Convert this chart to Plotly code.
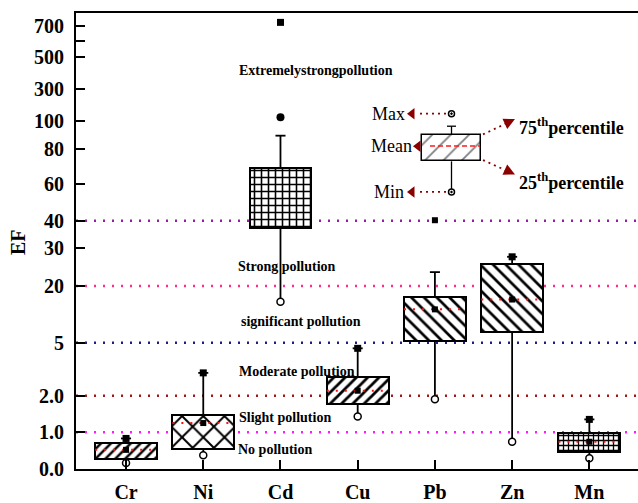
import numpy as np
import plotly.graph_objects as go

# ---------------- data ----------------
categories = ["Cr", "Ni", "Cd", "Cu", "Pb", "Zn", "Mn"]
q1 = [0.27, 0.555, 37.4, 1.78, 5.34, 7.95, 0.475]
q3 = [0.70, 1.48, 69.2, 3.06, 17.0, 25.7, 0.965]
mean = [0.52, 1.25, None, 2.28, 13.8, 16.4, 0.74]
whisker_max = [0.83, 3.29, 89.3, 4.68, 23.6, 27.6, 1.35]
min_val = [0.16, 0.375, 15.8, 1.43, 1.90, 0.74, 0.295]
has_max_marker = [True, True, False, True, False, True, True]
outlier_cat = ["Cd", "Cd", "Pb"]
outlier_val = [720, 122, 40.3]
outlier_symbol = ["square", "circle", "square"]
outlier_size = [7, 8, 6]
patterns = ["/", "x", "+", "/", "\\", "\\", "+"]
pattern_size = [7, 15, 7, 8, 9, 9, 5]
pattern_solidity = [0.35, 0.25, 0.4, 0.35, 0.3, 0.3, 0.45]

# custom broken EF scale: tick value -> axis position
tick_vals = [0, 1, 2, 5, 20, 30, 40, 60, 80, 100, 300, 500, 700]
tick_text = ["0.0", "1.0", "2.0", "5", "20", "30", "40", "60", "80", "100", "300", "500", "700"]
tick_pos = [0, 37.3, 74.3, 128, 185.5, 224.3, 251.5, 288.3, 324.7, 352.7, 385, 417.3, 449.3]
minor_tick_vals = [600]

thresholds = [40, 20, 5, 2, 1]
threshold_colors = ["#9a1aa8", "#ff2d8a", "#1c1c8c", "#a01818", "#ff1aff"]
class_labels = ["Extremelystrongpollution", "Strong pollution", "significant pollution",
                "Moderate pollution", "Slight pollution", "No pollution"]
class_label_pos = [71, 270, 326, 376, 423.3, 455]  # pixel rows
class_label_x = [236.7, 235.7, 239.3, 236.7, 236.7, 235.7]


def to_axis(v):
    if v is None:
        return None
    if v > tick_vals[-1]:
        slope = (tick_pos[-1] - tick_pos[-2]) / (tick_vals[-1] - tick_vals[-2])
        return tick_pos[-1] + (v - tick_vals[-1]) * slope
    return float(np.interp(v, tick_vals, tick_pos))


W, H = 638, 503
L, R, T, B = 76, 0, 13, 28
FONT = "Liberation Serif"
idx = list(range(len(categories)))
half = 0.4

fig = go.Figure()

# threshold dotted lines
for v, c in zip(thresholds, threshold_colors):
    fig.add_shape(type="line", xref="paper", x0=0, x1=1, yref="y", y0=to_axis(v), y1=to_axis(v),
                  line=dict(color=c, width=2.5, dash="2px,7px"), layer="below")

# whiskers
wx, wy = [], []
for i in idx:
    wx += [i, i, None, i, i, None]
    wy += [to_axis(q3[i]), to_axis(whisker_max[i]), None, to_axis(q1[i]), to_axis(min_val[i]), None]
    wx += [i - 0.065, i + 0.065, None]
    wy += [to_axis(whisker_max[i]), to_axis(whisker_max[i]), None]
fig.add_trace(go.Scatter(x=wx, y=wy, mode="lines", line=dict(color="black", width=1.8),
                         hoverinfo="skip", showlegend=False, opacity=1))

# boxes
fig.add_trace(go.Bar(
    x=idx, base=[to_axis(a) for a in q1],
    y=[to_axis(b) - to_axis(a) for a, b in zip(q1, q3)],
    width=2 * half, opacity=1,
    marker=dict(color="white", opacity=1, line=dict(color="black", width=2),
                pattern=dict(shape=patterns, fgcolor="black", bgcolor="white", fgopacity=1,
                             size=pattern_size, solidity=pattern_solidity)),
    showlegend=False, hoverinfo="skip"))

# mean dotted red lines
mx, my = [], []
for i in idx:
    if mean[i] is not None:
        mx += [i - half, i + half, None]
        my += [to_axis(mean[i]), to_axis(mean[i]), None]
fig.add_trace(go.Scatter(x=mx, y=my, mode="lines", line=dict(color="#ff1010", width=2, dash="2px,7px"),
                         hoverinfo="skip", showlegend=False))

# mean markers
fig.add_trace(go.Scatter(x=[i for i in idx if mean[i] is not None],
                         y=[to_axis(mean[i]) for i in idx if mean[i] is not None],
                         mode="markers", marker=dict(symbol="square", size=6, color="black"),
                         showlegend=False, hoverinfo="skip"))
# max markers
fig.add_trace(go.Scatter(x=[i for i in idx if has_max_marker[i]],
                         y=[to_axis(whisker_max[i]) for i in idx if has_max_marker[i]],
                         mode="markers", marker=dict(symbol="square", size=7, color="black"),
                         showlegend=False, hoverinfo="skip"))
# min markers
fig.add_trace(go.Scatter(x=idx, y=[to_axis(v) for v in min_val], mode="markers",
                         marker=dict(symbol="circle", size=7, color="white",
                                     line=dict(color="black", width=1.5)),
                         showlegend=False, hoverinfo="skip"))
# outliers
fig.add_trace(go.Scatter(x=[categories.index(c) for c in outlier_cat],
                         y=[to_axis(v) for v in outlier_val], mode="markers",
                         marker=dict(symbol=outlier_symbol, size=outlier_size, color="black",
                                     opacity=1, line=dict(color="black", width=0)),
                         showlegend=False, hoverinfo="skip", opacity=1))

# pollution class labels (pixel overlay axes)
for txt, py, px in zip(class_labels, class_label_pos, class_label_x):
    fig.add_annotation(xref="x2", yref="y2", x=px, y=py, text=txt, showarrow=False,
                       xanchor="left", yanchor="middle",
                       font=dict(family=FONT, size=14, color="black", weight="bold"))

# ---------------- schematic key (pixel overlay axes) ----------------
AR = "#8b0000"
fig.add_trace(go.Bar(x=[451.5], base=[136.7], y=[26.6], width=58.4, xaxis="x2", yaxis="y2",
                     opacity=1,
                     marker=dict(color="white", line=dict(color="black", width=1.5),
                                 pattern=dict(shape="/", fgcolor="black", bgcolor="white",
                                              size=13, solidity=0.14)),
                     showlegend=False, hoverinfo="skip"))
fig.add_trace(go.Scatter(x=[430, 480], y=[147.7, 147.7], xaxis="x2", yaxis="y2", mode="lines",
                         line=dict(color="#ff1a1a", width=1.5, dash="5px,3px"),
                         showlegend=False, hoverinfo="skip"))
fig.add_trace(go.Scatter(x=[451.5, 451.5, None, 447, 456, None, 451.5, 451.5],
                         y=[136.7, 127.7, None, 127.7, 127.7, None, 163.3, 194.3],
                         xaxis="x2", yaxis="y2", mode="lines", line=dict(color="black", width=1.3),
                         showlegend=False, hoverinfo="skip"))
fig.add_trace(go.Scatter(x=[451.5, 451.5], y=[115, 194.3], xaxis="x2", yaxis="y2", mode="markers",
                         marker=dict(symbol="circle-dot", size=6, color="white",
                                     line=dict(color="black", width=1.5)),
                         showlegend=False, hoverinfo="skip"))
# dotted arrow shafts
fig.add_trace(go.Scatter(x=[446, 416, None, 446, 416, None, 483, 506, None, 483, 506],
                         y=[115, 115, None, 194.3, 194.3, None, 136, 125, None, 162, 172.5],
                         xaxis="x2", yaxis="y2", mode="lines",
                         line=dict(color=AR, width=1.8, dash="2px,4px"),
                         showlegend=False, hoverinfo="skip"))
# horizontal arrow heads
fig.add_trace(go.Scatter(x=[412, 418, 412], y=[115, 148, 194.3],
                         xaxis="x2", yaxis="y2", mode="markers",
                         marker=dict(symbol="triangle-left", size=10, color=AR),
                         showlegend=False, hoverinfo="skip"))
# diagonal arrow heads
for (tx, ty, bx, by) in [(515, 120.5, 505, 125.2), (515, 176.5, 505, 171.8)]:
    fig.add_annotation(xref="x2", yref="y2", axref="x2", ayref="y2", x=tx, y=ty, ax=bx, ay=by,
                       text="", showarrow=True, arrowhead=2, arrowsize=1.4, arrowwidth=1.6,
                       arrowcolor=AR, standoff=0, startstandoff=0)
for txt, x, y in [("Max", 407, 115), ("Mean", 414, 148), ("Min", 406, 194)]:
    fig.add_annotation(xref="x2", yref="y2", x=x, y=y, text=txt, showarrow=False,
                       xanchor="right", yanchor="middle",
                       font=dict(family=FONT, size=18, color="black"))
for txt, y in [("75<sup>th</sup>percentile", 128), ("25<sup>th</sup>percentile", 184)]:
    fig.add_annotation(xref="x2", yref="y2", x=517, y=y, text=txt, showarrow=False,
                       xanchor="left", yanchor="middle",
                       font=dict(family=FONT, size=18, color="black", weight="bold"))

# y title
fig.add_annotation(xref="paper", yref="paper", x=(18 - L) / (W - L - R), y=1 - (245 - T) / (H - T - B),
                   text="EF", textangle=-90, showarrow=False, xanchor="center", yanchor="middle",
                   font=dict(family=FONT, size=20, color="black", weight="bold"))

fig.update_layout(
    width=W, height=H, margin=dict(l=L, r=R, t=T, b=B),
    paper_bgcolor="white", plot_bgcolor="white", barmode="overlay", bargap=0,
    showlegend=False,
    font=dict(family=FONT, color="black"),
    xaxis=dict(range=[-0.648, 6.63], tickvals=idx, ticktext=categories,
               showline=True, linewidth=2, linecolor="black", mirror=True,
               ticks="inside", ticklen=9, tickwidth=2, tickcolor="black",
               showgrid=False, zeroline=False, ticklabelstandoff=4,
               tickfont=dict(family=FONT, size=20, color="black", weight="bold")),
    yaxis=dict(range=[0, H - T - B], tickvals=tick_pos, ticktext=tick_text,
               showline=True, linewidth=2, linecolor="black",
               ticks="inside", ticklen=9, tickwidth=2, tickcolor="black",
               minor=dict(tickvals=[to_axis(v) for v in minor_tick_vals], ticks="inside",
                          ticklen=9, tickwidth=2, tickcolor="black", showgrid=False),
               showgrid=False, zeroline=False, ticklabelstandoff=6,
               tickfont=dict(family=FONT, size=20, color="black", weight="bold")),
    xaxis2=dict(overlaying="x", anchor="y2", range=[L, W - R], visible=False),
    yaxis2=dict(overlaying="y", anchor="x2", range=[H - B, T], visible=False),
)

fig.write_html("out.html")
